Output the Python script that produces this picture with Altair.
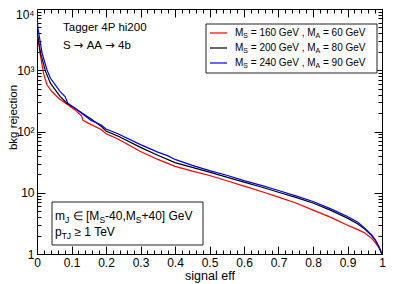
import altair as alt
import pandas as pd

# ---------------- data ----------------
series_names = ["M_S=160, M_A=60", "M_S=200, M_A=80", "M_S=240, M_A=90"]
ms_values = [160, 200, 240]
ma_values = [60, 80, 90]
series_colors = ["#ff0000", "#000000", "#0000ff"]

eff_red = [0.0, 0.001, 0.0105, 0.02, 0.029, 0.043, 0.0625, 0.086, 0.11, 0.129, 0.1335, 0.148,
           0.186, 0.2, 0.233, 0.3, 0.35, 0.4, 0.45, 0.5, 0.55, 0.6, 0.65, 0.7, 0.75, 0.8,
           0.85, 0.9, 0.93, 0.95, 0.97, 0.98, 0.99, 1.0]
rej_red = [10000, 3770, 1670, 840, 580, 450, 350, 282, 225, 180, 152, 137,
           108, 92, 76, 47, 35, 27, 22.5, 19.1, 15.7, 12.8, 10.5, 8.5, 6.8, 5.2,
           4.0, 2.95, 2.5, 2.2, 1.8, 1.55, 1.3, 1.0]

eff_black = [0.0, 0.001, 0.0105, 0.025, 0.039, 0.053, 0.067, 0.086, 0.11, 0.138, 0.157,
             0.186, 0.2, 0.233, 0.3, 0.35, 0.4, 0.45, 0.5, 0.55, 0.6, 0.65, 0.7, 0.75, 0.8,
             0.85, 0.9, 0.93, 0.95, 0.97, 0.98, 0.99, 1.0]
rej_black = [10000, 4000, 1890, 950, 615, 480, 375, 292, 240, 187, 160,
             122, 102, 85, 55, 41, 31, 26, 21.7, 18, 14.9, 12.4, 10.2, 8.4, 6.8,
             5.2, 3.85, 3.1, 2.55, 2.0, 1.7, 1.35, 1.0]

eff_blue = [0.0, 0.002, 0.015, 0.029, 0.039, 0.053, 0.067, 0.0815, 0.089, 0.11, 0.138, 0.157,
            0.186, 0.2, 0.233, 0.3, 0.35, 0.38, 0.4, 0.45, 0.5, 0.55, 0.6, 0.65, 0.7, 0.75,
            0.8, 0.85, 0.9, 0.93, 0.95, 0.97, 0.98, 0.99, 1.0]
rej_blue = [10000, 5100, 1890, 1010, 740, 575, 448, 371, 290, 240, 182, 152,
            128, 110, 93, 61, 46, 40, 35, 28, 23, 19.3, 15.8, 13.2, 10.9, 8.9,
            7.2, 5.5, 4.1, 3.3, 2.65, 2.05, 1.72, 1.35, 1.0]

x_major = [0, 0.1, 0.2, 0.3, 0.4, 0.5, 0.6, 0.7, 0.8, 0.9, 1]
x_minor = [round(i * 0.02, 2) for i in range(51) if i % 5 != 0]
y_major = [1, 10, 100, 1000, 10000]
y_major_labels = ["1", "10", "10²", "10³", "10⁴"]
y_minor = [m * 10 ** k for k in range(4) for m in range(2, 10)]

# ---------------- layout ----------------
W, H = 345, 245
FONT = "Liberation Sans"
ARROW_FONT = "DejaVu Sans"
MAJ, MIN = 8, 4

rows = []
for name, xs, ys in [(series_names[0], eff_red, rej_red),
                     (series_names[1], eff_black, rej_black),
                     (series_names[2], eff_blue, rej_blue)]:
    for xv, yv in zip(xs, ys):
        rows.append({"series": name, "eff": xv, "rej": yv})
df = pd.DataFrame(rows)
dummy = pd.DataFrame({"a": [0]})

xscale = alt.Scale(domain=[0, 1], nice=False, zero=False)
yscale = alt.Scale(type="log", domain=[1, 10000], nice=False)

ylab_expr = " : ".join(
    f"datum.value == {v} ? '{l}'" for v, l in zip(y_major, y_major_labels)) + " : ''"

common = dict(domain=False, grid=False, tickColor="black", tickWidth=1)


def ghost(xaxis, yaxis):
    return alt.Chart(df).mark_line(opacity=0).encode(
        x=alt.X("eff:Q", scale=xscale, axis=xaxis),
        y=alt.Y("rej:Q", scale=yscale, axis=yaxis),
        detail="series:N",
    )


lines = alt.Chart(df).mark_line(strokeWidth=1.2, clip=True).encode(
    x=alt.X("eff:Q", scale=xscale, axis=alt.Axis(
        orient="bottom", values=x_major, tickSize=MAJ, offset=-MAJ,
        labelExpr="format(datum.value, '.1~f')", labelFont=FONT, labelFontSize=12,
        labelColor="black", labelPadding=3, labelFlush=False,
        title="signal eff", titleFont=FONT, titleFontSize=12.5, titleFontWeight="normal",
        titleColor="black", titleX=W / 2, titleY=33, titleBaseline="alphabetic",
        titleAnchor="middle", **common)),
    y=alt.Y("rej:Q", scale=yscale, axis=alt.Axis(
        orient="left", values=y_major, tickSize=MAJ, offset=-MAJ,
        labelExpr=ylab_expr, labelFont=FONT, labelFontSize=12, labelColor="black",
        labelPadding=3, labelFlush=False,
        labelBaseline={"condition": {"test": "datum.value == 10000", "value": "top"},
                       "value": "middle"},
        title="bkg rejection", titleFont=FONT, titleFontSize=11.5, titleFontWeight="normal",
        titleColor="black", titleAngle=270, titleX=-32, titleY=108,
        titleAlign="center", titleBaseline="middle", **common)),
    color=alt.Color("series:N", scale=alt.Scale(domain=series_names, range=series_colors),
                    legend=None),
)

minor_bl = ghost(
    alt.Axis(orient="bottom", values=x_minor, tickSize=MIN, offset=-MIN, labels=False,
             title="", **common),
    alt.Axis(orient="left", values=y_minor, tickSize=MIN, offset=-MIN, labels=False,
             title="", **common),
)
major_tr = ghost(
    alt.Axis(orient="top", values=x_major, tickSize=MAJ, offset=-MAJ, labels=False,
             title="", **common),
    alt.Axis(orient="right", values=y_major, tickSize=MAJ, offset=-MAJ, labels=False,
             title="", **common),
)
minor_tr = ghost(
    alt.Axis(orient="top", values=x_minor, tickSize=MIN, offset=-MIN, labels=False,
             title="", **common),
    alt.Axis(orient="right", values=y_minor, tickSize=MIN, offset=-MIN, labels=False,
             title="", **common),
)

# ---------------- annotations ----------------
CW = {" ": 278, "=": 584, "G": 778, "e": 556, "V": 667, ",": 278, "M": 833,
      "S": 667, "A": 667, "J": 500, "T": 611, "m": 833, "p": 556, "[": 278, "]": 278,
      "-": 333, "+": 584, "∈": 850, "≥": 584, "→": 838, "b": 556}


def text_width(s, size):
    return sum(CW.get(c, 556) for c in s) * size / 1000.0


def text_layer(txt, x, y, size, font=FONT):
    return alt.Chart(dummy).mark_text(
        align="left", baseline="middle", font=font, fontSize=size, color="black"
    ).encode(x=alt.value(x), y=alt.value(y), text=alt.value(txt))


def rich(pieces, x, y, size, sub_size=None, sub_dy=0):
    out = []
    cx = x
    for txt, kind in pieces:
        s = sub_size if kind == "sub" else size
        font = ARROW_FONT if kind == "arrow" else FONT
        lead = len(txt) - len(txt.lstrip(" "))
        cx += text_width(" " * lead, s)
        body = txt.strip(" ")
        out.append(text_layer(body, cx, y + (sub_dy if kind == "sub" else 0), s, font))
        cx += text_width(txt.lstrip(" "), s)
    return out


def box(x1, x2, y1, y2):
    return alt.Chart(dummy).mark_rect(fill="white", stroke="#222222", strokeWidth=1).encode(
        x=alt.value(x1), x2=alt.value(x2), y=alt.value(y1), y2=alt.value(y2))


ann = [box(169, 340, 15, 64)]
for i, (ms, ma, col) in enumerate(zip(ms_values, ma_values, series_colors)):
    yy = 24 + 15 * i
    ann.append(alt.Chart(dummy).mark_rule(color=col, strokeWidth=1.2).encode(
        x=alt.value(173), x2=alt.value(190), y=alt.value(yy)))
    ann += rich([("M", "n"), ("S", "sub"), (f" = {ms} GeV , M", "n"), ("A", "sub"),
                 (f" = {ma} GeV", "n")], 198, yy, 10, 7, 3)

ann.append(text_layer("Tagger 4P hi200", 26, 19, 11.5))
ann += rich([("S ", "n"), ("→", "arrow"), (" AA ", "n"), ("→", "arrow"), (" 4b", "n")],
            26, 37, 11.5)

ann.append(box(15, 166, 193, 236))
ann += rich([("m", "n"), ("J", "sub"), (" ∈ [M", "n"), ("S", "sub"), ("-40,M", "n"),
             ("S", "sub"), ("+40] GeV", "n")], 18, 207, 12, 8.5, 3.5)
ann += rich([("p", "n"), ("TJ", "sub"), (" ≥ 1 TeV", "n")], 18, 223, 12, 8.5, 3.5)

chart = alt.layer(lines, minor_bl, major_tr, minor_tr, *ann).resolve_axis(
    x="independent", y="independent"
).properties(
    width=W, height=H,
    autosize=alt.AutoSizeParams(type="none"),
    padding={"left": 29, "top": 1, "right": 4, "bottom": 30},
).configure_view(stroke="black", strokeWidth=1)

chart.save("out.html", embed_options={"renderer": "svg", "actions": False})
